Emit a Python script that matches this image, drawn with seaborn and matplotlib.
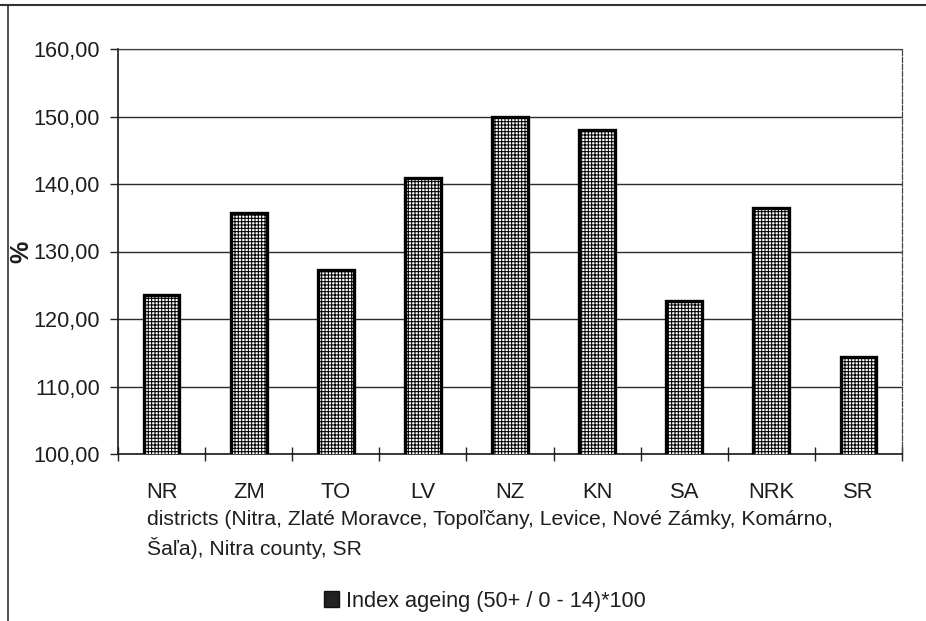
import matplotlib
matplotlib.use("Agg")
import matplotlib.pyplot as plt
from matplotlib.lines import Line2D
from matplotlib.patches import Patch
import seaborn as sns
import pandas as pd

categories = ["NR", "ZM", "TO", "LV", "NZ", "KN", "SA", "NRK", "SR"]
index_ageing = [123.6, 135.7, 127.2, 140.9, 150.0, 148.0, 122.6, 136.4, 114.3]
y_ticks = [100, 110, 120, 130, 140, 150, 160]
series_label = "Index ageing (50+ / 0 - 14)*100"
axis_title = ("districts (Nitra, Zlaté Moravce, Topoľčany, Levice, Nové Zámky, Komárno,\n"
              "Šaľa), Nitra county, SR")

sns.set_theme(style="white")
plt.rcParams["font.family"] = ["Liberation Sans", "DejaVu Sans"]
plt.rcParams["hatch.linewidth"] = 0.75
plt.rcParams["hatch.color"] = "black"

text_color = "#1e1e1e"

df = pd.DataFrame({"district": categories, "value": index_ageing})

fig = plt.figure(figsize=(9.26, 6.21), dpi=100)
ax = fig.add_axes([118 / 926, 1 - 454 / 621, 784 / 926, 405 / 621])

sns.barplot(data=df, x="district", y="value", color="white", edgecolor="black",
            linewidth=2.4, width=0.41, ax=ax, zorder=3)
for p in ax.patches:
    p.set_hatch("+++++")
    p.set_facecolor("white")

ax.set_ylim(100, 160)
ax.set_xlim(-0.5, len(categories) - 0.5)
ax.set_yticks(y_ticks)
ax.set_yticklabels([f"{v:.2f}".replace(".", ",") for v in y_ticks])
ax.grid(axis="y", color="#2a2a2a", linewidth=1.0, zorder=0)
ax.grid(axis="x", visible=False)

# tick marks sit on the category boundaries, labels at the centres
ax.set_xticks([i - 0.5 for i in range(len(categories) + 1)], minor=True)
ax.tick_params(axis="x", which="minor", direction="inout", length=10, width=1.0,
               color="#222222", bottom=True)
ax.tick_params(axis="x", which="major", length=0, pad=20, labelsize=15.8,
               labelcolor=text_color)
ax.tick_params(axis="y", which="major", direction="out", length=6, width=1.0,
               color="#222222", left=True, pad=7, labelsize=15.6,
               labelcolor=text_color)

ax.set_xlabel("")
ax.set_ylabel("%", fontsize=18, fontweight="bold", color=text_color)
ax.yaxis.set_label_coords(-0.108, 0.5)

for side in ["left", "bottom"]:
    ax.spines[side].set_color("#1a1a1a")
    ax.spines[side].set_linewidth(1.2)
for side in ["top", "right"]:
    ax.spines[side].set_color("#444444")
    ax.spines[side].set_linewidth(0.9)
    ax.spines[side].set_linestyle((0, (4, 1.5)))

fig.text(147 / 926, 1 - 510 / 621, axis_title, ha="left", va="top",
         fontsize=15.2, color=text_color, linespacing=1.45)

handle = Patch(facecolor="#222222", edgecolor="#111111", linewidth=1.0)
fig.legend([handle], [series_label], loc="center", bbox_to_anchor=(485 / 926, 1 - 601 / 621),
           frameon=False, fontsize=15.7, handlelength=0.7, handleheight=0.7,
           handletextpad=0.3, labelcolor=text_color)

# outer chart frame (top and left edges)
fig.add_artist(Line2D([0, 1], [1 - 5 / 621, 1 - 5 / 621], transform=fig.transFigure,
                      color="#333333", linewidth=1.5))
fig.add_artist(Line2D([8 / 926, 8 / 926], [0, 1 - 5 / 621], transform=fig.transFigure,
                      color="#333333", linewidth=1.2))

fig.savefig("out.png", dpi=100, facecolor="white")
